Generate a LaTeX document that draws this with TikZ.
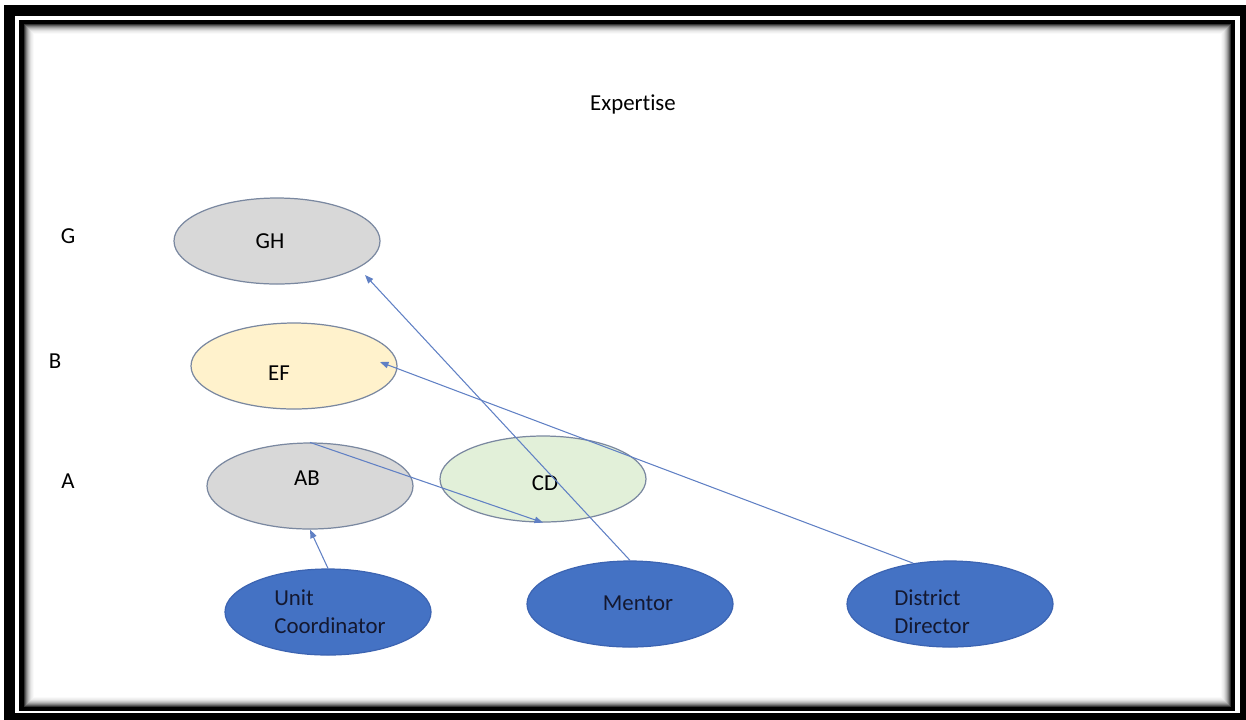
\documentclass[tikz,border=0pt]{standalone}
\usepackage{fontspec}
\setmainfont[Ligatures=NoCommon]{Carlito}
\usetikzlibrary{shapes,arrows.meta,positioning}

\definecolor{greyfill}{RGB}{216,216,216}
\definecolor{creamfill}{RGB}{255,242,204}
\definecolor{mintfill}{RGB}{226,240,217}
\definecolor{roleblue}{RGB}{68,114,196}
\definecolor{roleedge}{RGB}{60,100,178}
\definecolor{rimgrey}{RGB}{122,136,160}
\definecolor{linkblue}{RGB}{96,128,196}
\definecolor{roleink}{RGB}{20,24,48}

\begin{document}
\begin{tikzpicture}[
    x=0.2mm, y=-0.2mm,
    bubble/.style={ellipse, draw=rimgrey, line width=0.7pt, minimum width=41.2mm, minimum height=17.2mm, inner sep=0pt},
    role/.style={bubble, fill=roleblue, draw=roleedge},
    link/.style={-{Triangle[length=1.7mm,width=1.3mm]}, draw=linkblue, line width=0.6pt},
    txt/.style={font=\fontsize{13}{16}\selectfont, inner sep=0pt}
]
\useasboundingbox (0,0) rectangle (1246,719);

% Frame
\draw[line width=6.3pt] (9.5,10.5) rectangle (1245.5,718.5);
\draw[line width=2.8pt] (21.5,22) rectangle (1232.5,709);
\foreach \i/\c in {1/80,2/64,3/50,4/38,5/28,6/20,7/13,8/8,9/5,10/2}
    \draw[black!\c, line width=0.6pt] (23.5+\i,23.5+\i) rectangle (1231.5-\i,707.5-\i);

% Title and levels
\node[txt] (title) at (633,104) {Expertise};
\node[txt] (lvlg) at (68,236) {G};
\node[txt] (lvlb) at (55,361) {B};
\node[txt] (lvla) at (68,481) {A};

% Expertise ellipses
\node[bubble, fill=greyfill] (gh) at (277,241) {};
\node[txt] (ghtext) at (270,241) {GH};

\node[bubble, fill=creamfill] (ef) at (294,366) {};
\node[txt] (eftext) at (279,373) {EF};

\node[bubble, fill=greyfill] (ab) at (310,486) {};
\node[txt] (abtext) at (307,478) {AB};

\node[bubble, fill=mintfill] (cd) at (543,479) {};
\node[txt] (cdtext) at (545,483) {CD};

% Roles
\node[role] (uc) at (328,612) {};
\node[txt, align=left, text=roleink] (uctext) at (330,612) {Unit\\Coordinator};

\node[role] (mentor) at (630,604) {};
\node[txt, text=roleink] (mentortext) at (638,603) {Mentor};

\node[role] (dd) at (950,604) {};
\node[txt, align=left, text=roleink] (ddtext) at (932,612) {District\\Director};

% Links
\coordinate (ghtip) at (365,275);
\coordinate (eftip) at (380,362);

\draw[link] (uc.north) -- (ab.south);
\draw[link] (ab.north) -- (cd.south);
\draw[link] (mentor.north) -- (ghtip);
\draw[link] (dd.132) -- (eftip);

\end{tikzpicture}
\end{document}
